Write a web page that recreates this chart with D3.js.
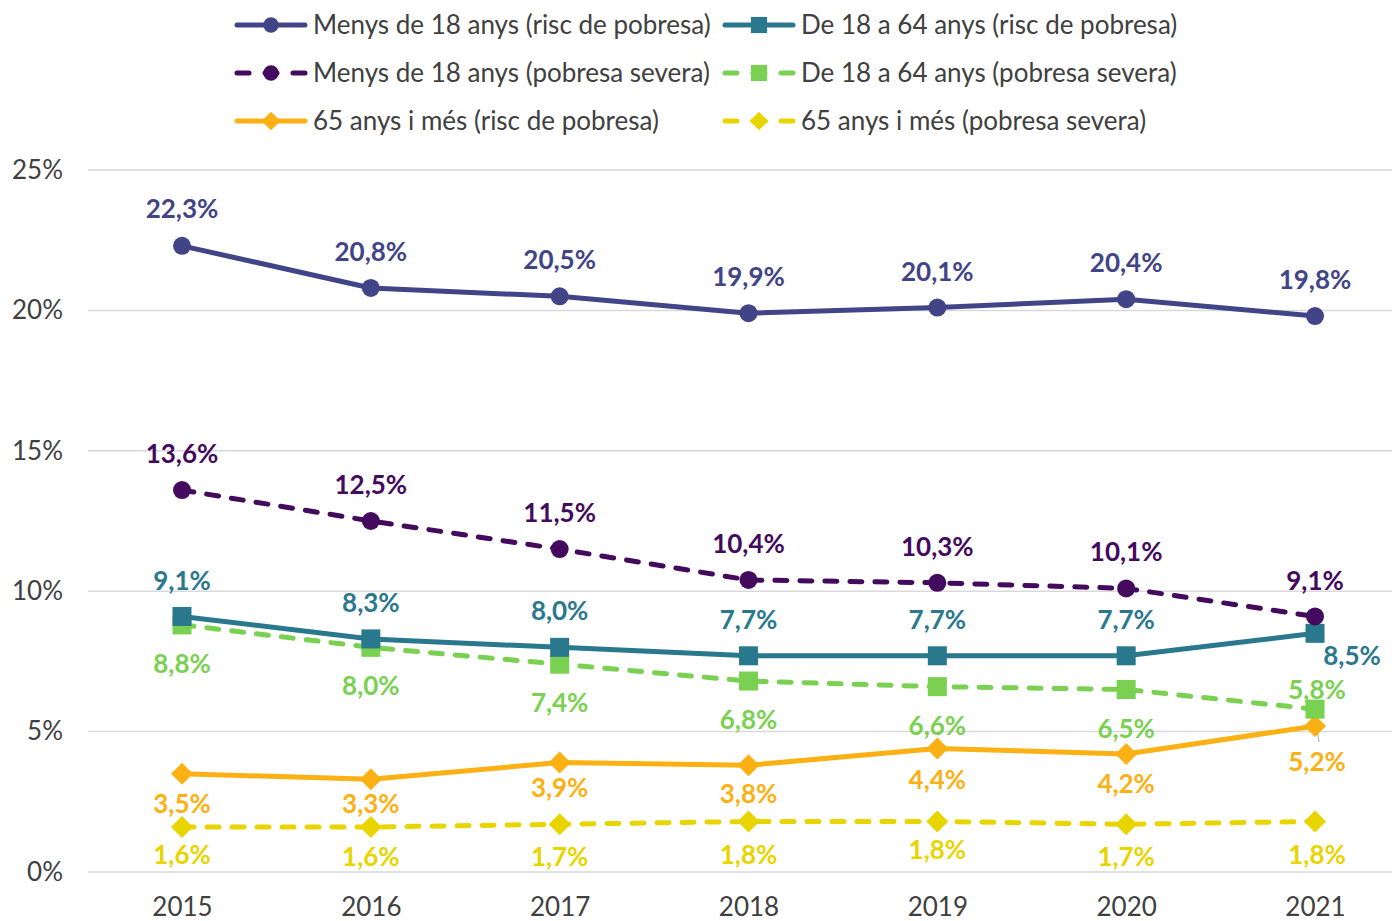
<!DOCTYPE html>
<html>
<head>
<meta charset="utf-8">
<script src="https://cdn.jsdelivr.net/npm/d3@7"></script>
<style>
  html, body { margin: 0; padding: 0; background: #fff; }
  svg { display: block; font-family: Lato, "Open Sans", sans-serif; }
</style>
</head>
<body>
<svg id="chart" width="1392" height="921"></svg>
<script>
// Years on the x axis
const years = ["2015", "2016", "2017", "2018", "2019", "2020", "2021"];

// Poverty rates (%) by age group
const under18Risk     = [22.3, 20.8, 20.5, 19.9, 20.1, 20.4, 19.8];
const under18Severe   = [13.6, 12.5, 11.5, 10.4, 10.3, 10.1, 9.1];
const age18to64Risk   = [9.1, 8.3, 8.0, 7.7, 7.7, 7.7, 8.5];
const age18to64Severe = [8.8, 8.0, 7.4, 6.8, 6.6, 6.5, 5.8];
const over65Risk      = [3.5, 3.3, 3.9, 3.8, 4.4, 4.2, 5.2];
const over65Severe    = [1.6, 1.6, 1.7, 1.8, 1.8, 1.7, 1.8];

// Y axis ticks
const yTicks = [0, 5, 10, 15, 20, 25];

const series = [
  { name: "Menys de 18 anys (risc de pobresa)", values: under18Risk,     color: "#414487", dashed: false, marker: "circle",  labelDy: [-37,-36,-36,-36,-36,-36,-36], labelDx: [0,0,0,0,0,0,0] },
  { name: "Menys de 18 anys (pobresa severa)",  values: under18Severe,   color: "#440a5e", dashed: true,  marker: "circle",  labelDy: [-36,-36,-36,-36,-36,-36,-36], labelDx: [0,0,0,0,0,0,0] },
  { name: "De 18 a 64 anys (risc de pobresa)",  values: age18to64Risk,   color: "#2a788e", dashed: false, marker: "square",  labelDy: [-36,-36,-36,-36,-36,-36,23],  labelDx: [0,0,0,0,0,0,37] },
  { name: "De 18 a 64 anys (pobresa severa)",   values: age18to64Severe, color: "#7ad151", dashed: true,  marker: "square",  labelDy: [39,39,39,39,39,39,-19],       labelDx: [0,0,0,0,0,0,2] },
  { name: "65 anys i més (risc de pobresa)",    values: over65Risk,      color: "#fbb013", dashed: false, marker: "diamond", labelDy: [30,25,25,29,31,30,36],        labelDx: [0,0,0,0,0,0,2] },
  { name: "65 anys i més (pobresa severa)",     values: over65Severe,    color: "#e8d500", dashed: true,  marker: "diamond", labelDy: [28,30,33,33,28,33,33],        labelDx: [0,0,0,0,0,0,2] }
];

const svg = d3.select("#chart");

const x = d3.scalePoint().domain(years).range([182, 1315]);
const y = d3.scaleLinear().domain([0, 25]).range([872, 170]);

const fmt = v => d3.format(".1f")(v).replace(".", ",") + "%";
const FONT = 26;

// Horizontal gridlines
svg.append("g")
  .selectAll("line")
  .data(yTicks)
  .join("line")
  .attr("x1", 88).attr("x2", 1392)
  .attr("y1", d => y(d)).attr("y2", d => y(d))
  .attr("stroke", "#d9d9d9").attr("stroke-width", 1.5);

// Y axis labels
const yAxis = d3.axisLeft(y).tickValues(yTicks).tickFormat(d => d + "%").tickSize(0).tickPadding(0);
svg.append("g")
  .attr("transform", "translate(63,0)")
  .call(yAxis)
  .call(g => g.select(".domain").remove())
  .call(g => g.selectAll("text")
    .attr("font-family", "Lato, sans-serif")
    .attr("font-size", FONT)
    .attr("fill", "#404040"));

// X axis labels
const xAxis = d3.axisBottom(x).tickSize(0).tickPadding(0);
svg.append("g")
  .attr("transform", "translate(0,898)")
  .call(xAxis)
  .call(g => g.select(".domain").remove())
  .call(g => g.selectAll("text")
    .attr("font-family", "Lato, sans-serif")
    .attr("font-size", FONT)
    .attr("fill", "#404040"));

const line = d3.line().x((d, i) => x(years[i])).y(d => y(d));

function drawMarker(g, type, cx, cy, color, size) {
  const k = size || 1;
  if (type === "circle") {
    g.append("circle").attr("cx", cx).attr("cy", cy).attr("r", 9 * k).attr("fill", color);
  } else if (type === "square") {
    const h = 9.5 * k;
    g.append("rect").attr("x", cx - h).attr("y", cy - h).attr("width", 2 * h).attr("height", 2 * h).attr("fill", color);
  } else {
    const s = 11 * k;
    g.append("path")
      .attr("d", `M${cx},${cy - s}L${cx + s},${cy}L${cx},${cy + s}L${cx - s},${cy}Z`)
      .attr("fill", color);
  }
}

// Leader line for the last 65+ risk label
svg.append("line")
  .attr("x1", x("2021") + 2).attr("y1", y(over65Risk[6]) + 4)
  .attr("x2", x("2021") + 4).attr("y2", y(over65Risk[6]) + 16)
  .attr("stroke", "#a6a6a6").attr("stroke-width", 1);

// Lines and markers, drawn bottom series first so the top ones overlap
const drawOrder = [5, 4, 3, 2, 1, 0];
drawOrder.forEach(k => {
  const s = series[k];
  const g = svg.append("g");
  g.append("path")
    .attr("d", line(s.values))
    .attr("fill", "none")
    .attr("stroke", s.color)
    .attr("stroke-width", 5)
    .attr("stroke-linecap", "round")
    .attr("stroke-linejoin", "round")
    .attr("stroke-dasharray", s.dashed ? "12,13" : null);
  s.values.forEach((v, i) => drawMarker(g, s.marker, x(years[i]), y(v), s.color));
});

// Data labels
series.forEach(s => {
  svg.append("g")
    .selectAll("text")
    .data(s.values)
    .join("text")
    .attr("x", (d, i) => x(years[i]) + s.labelDx[i])
    .attr("y", (d, i) => y(d) + s.labelDy[i])
    .attr("dy", "0.35em")
    .attr("text-anchor", "middle")
    .attr("font-family", "Lato, sans-serif")
    .attr("font-weight", "bold")
    .attr("font-size", FONT)
    .attr("fill", s.color)
    .text(d => fmt(d));
});

// Legend
const legendPos = [
  { x: 237, y: 25 }, { x: 237, y: 73 },
  { x: 725, y: 25 }, { x: 725, y: 73 },
  { x: 237, y: 121 }, { x: 725, y: 121 }
];
series.forEach((s, k) => {
  const p = legendPos[k];
  const g = svg.append("g");
  g.append("line")
    .attr("x1", p.x).attr("x2", p.x + 68)
    .attr("y1", p.y).attr("y2", p.y)
    .attr("stroke", s.color).attr("stroke-width", 5)
    .attr("stroke-linecap", "round")
    .attr("stroke-dasharray", s.dashed ? "12,16" : null);
  drawMarker(g, s.marker, p.x + 34, p.y, s.color, 0.85);
  g.append("text")
    .attr("x", p.x + 76).attr("y", p.y)
    .attr("dy", "0.35em")
    .attr("font-family", "Lato, sans-serif")
    .attr("font-size", FONT)
    .attr("fill", "#404040")
    .text(s.name);
});
</script>
</body>
</html>
